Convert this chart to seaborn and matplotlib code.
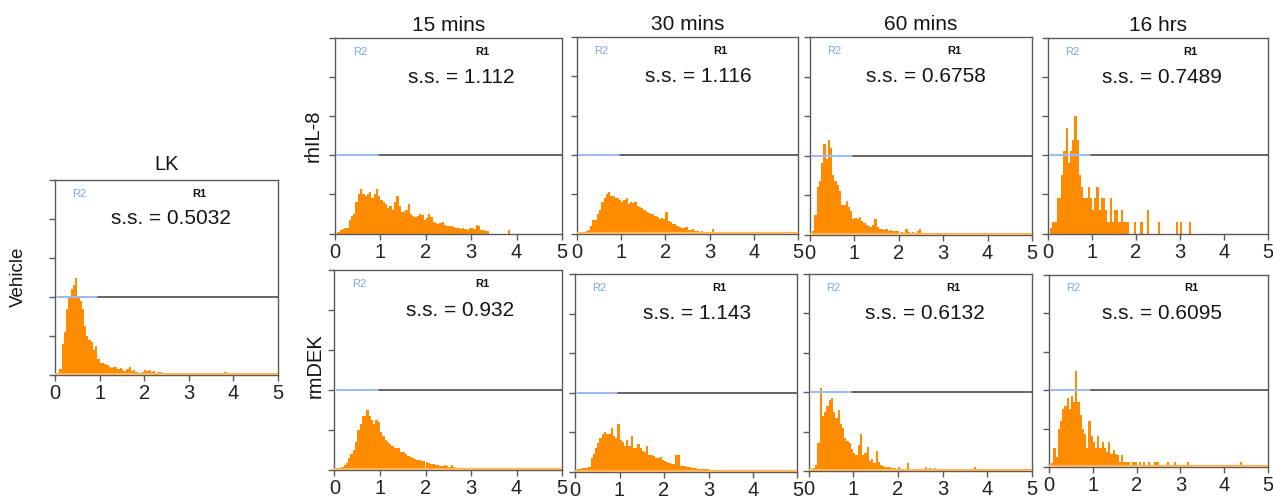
import numpy as np
import pandas as pd
import matplotlib
matplotlib.use("Agg")
import matplotlib.pyplot as plt
import seaborn as sns

sns.set_style("white")
plt.rcParams['font.family'] = ['Liberation Sans', 'DejaVu Sans']

# ---------------- data (heights in tick units, 0.05-wide bins from 0) ----------------
lk_vehicle = [0, 0.05, 0.15, 0.8, 1.1, 1.7, 2.0, 2.2, 2.3, 2.5,
              2.0, 1.9, 1.7, 1.25, 1.0, 0.9, 0.85, 0.65, 0.75, 0.4,
              0.3, 0.3, 0.28, 0.25, 0.2, 0.18, 0.2, 0.2, 0.15, 0.18,
              0.12, 0.1, 0.15, 0.2, 0.1, 0.12, 0.08, 0.05, 0.03, 0.08,
              0.12, 0.1, 0.12, 0.08, 0.1, 0.06, 0.08, 0.08, 0.06, 0.02]
lk_vehicle_out_x = [2.55, 2.65, 2.75, 2.8, 3.3, 3.5, 3.8]
lk_vehicle_out_h = [0.02, 0.05, 0.05, 0.04, 0.06, 0.05, 0.08]

il8_15 = [0, 0.03, 0.09, 0.12, 0.13, 0.15, 0.35, 0.45, 0.5, 0.8,
          1.0, 1.15, 1.0, 0.95, 1.0, 1.05, 0.9, 1.0, 1.15, 0.95,
          0.85, 0.8, 0.75, 0.65, 0.7, 0.6, 0.8, 0.95, 0.7, 0.55,
          0.55, 0.6, 0.75, 0.5, 0.45, 0.42, 0.45, 0.5, 0.48, 0.35,
          0.4, 0.5, 0.42, 0.3, 0.28, 0.25, 0.28, 0.3, 0.22, 0.2,
          0.2, 0.2, 0.16, 0.13, 0.13, 0.12, 0.13, 0.12, 0.1, 0.13,
          0.15, 0.12, 0.22, 0.18, 0.1, 0.08, 0.06, 0.06]
il8_15_out_x = [3.8]
il8_15_out_h = [0.09]

il8_30 = [0.02, 0.02, 0.02, 0.04, 0.06, 0.1, 0.2, 0.35, 0.35, 0.5,
          0.6, 0.8, 0.9, 1.0, 1.05, 0.95, 0.95, 0.9, 0.9, 0.85,
          0.8, 0.85, 0.9, 0.75, 0.8, 0.78, 0.8, 0.7, 0.68, 0.65,
          0.6, 0.55, 0.52, 0.5, 0.5, 0.45, 0.42, 0.38, 0.4, 0.38,
          0.55, 0.33, 0.28, 0.25, 0.25, 0.2, 0.17, 0.14, 0.13, 0.16,
          0.1, 0.09, 0.12, 0.07, 0.06, 0.05, 0.06, 0.05, 0.05, 0.04,
          0.05, 0.12, 0.04, 0.03, 0.03, 0.04, 0.02, 0.02]
il8_30_out_x = [3.75]
il8_30_out_h = [0.03]

il8_60 = [0.05, 0.08, 0.5, 1.2, 1.35, 1.8, 2.3, 1.9, 2.4, 2.2,
          1.5, 1.35, 1.25, 1.1, 0.75, 0.75, 0.85, 0.7, 0.6, 0.4,
          0.42, 0.4, 0.45, 0.35, 0.3, 0.25, 0.22, 0.2, 0.25, 0.4,
          0.2, 0.15, 0.15, 0.12, 0.15, 0.1, 0.12, 0.1, 0.1, 0.08,
          0.05, 0.06, 0.05, 0.15, 0.06, 0.05, 0.06, 0.05, 0.08, 0.15,
          0.05, 0.03, 0.05, 0.03, 0.02]
il8_60_out_x = [2.9, 3.0, 3.45, 4.3]
il8_60_out_h = [0.05, 0.05, 0.05, 0.05]

il8_16h = [0, 0.15, 0.3, 0.3, 0.9, 0.9, 1.5, 2.1, 2.7, 1.8,
           2.1, 2.4, 3.0, 2.4, 1.5, 1.2, 0.9, 0.9, 1.2, 0.9,
           0.6, 0.9, 1.2, 0.6, 0.9, 0.9, 0.6, 0.3, 0.9, 0.3,
           0.6, 0.6, 0.3, 0.6, 0.3, 0.3, 0.3]
il8_16h_out_x = [1.95, 2.1, 2.25, 2.5, 2.9, 3.0, 3.2]
il8_16h_out_h = [0.3, 0.3, 0.6, 0.3, 0.3, 0.3, 0.3]

dek_15 = [0, 0.02, 0.04, 0.08, 0.12, 0.18, 0.3, 0.4, 0.5, 0.7,
          1.0, 1.15, 1.35, 1.35, 1.5, 1.35, 1.25, 1.15, 1.25, 1.2,
          0.95, 0.85, 0.75, 0.7, 0.65, 0.6, 0.55, 0.55, 0.55, 0.45,
          0.45, 0.4, 0.35, 0.32, 0.3, 0.28, 0.26, 0.24, 0.23, 0.22,
          0.2, 0.18, 0.16, 0.14, 0.13, 0.12, 0.11, 0.11, 0.12, 0.09,
          0.08, 0.12, 0.07, 0.06, 0.06, 0.05, 0.05, 0.04, 0.03, 0.03]
dek_15_out_x = [3.05, 3.15, 3.25, 3.35, 3.6]
dek_15_out_h = [0.02, 0.02, 0.02, 0.02, 0.04]

dek_30 = [0.03, 0.06, 0.07, 0.08, 0.08, 0.1, 0.12, 0.35, 0.45, 0.6,
          0.72, 0.85, 0.95, 1.0, 0.95, 0.95, 1.1, 0.9, 0.85, 1.2,
          0.8, 0.75, 0.65, 0.8, 0.65, 0.9, 0.6, 0.6, 0.7, 0.6,
          0.52, 0.5, 0.65, 0.42, 0.42, 0.4, 0.35, 0.33, 0.37, 0.3,
          0.27, 0.25, 0.22, 0.2, 0.18, 0.42, 0.42, 0.14, 0.15, 0.13,
          0.12, 0.12, 0.1, 0.1, 0.08, 0.07, 0.07, 0.07, 0.06, 0.06]
dek_30_out_x = [3.1, 3.2, 3.3, 3.45, 3.6, 3.75, 3.85]
dek_30_out_h = [0.04, 0.03, 0.04, 0.03, 0.03, 0.03, 0.03]

dek_60 = [0, 0, 0.08, 0.15, 0.7, 2.1, 1.4, 1.5, 1.65, 1.8,
          1.85, 1.5, 1.35, 1.55, 1.2, 1.1, 0.85, 0.75, 0.7, 0.55,
          0.45, 0.4, 0.65, 0.95, 0.4, 0.45, 0.6, 0.25, 0.3, 0.2,
          0.5, 0.22, 0.15, 0.12, 0.1, 0.1, 0.1, 0.08, 0.08, 0.06,
          0.1, 0.05, 0.05, 0.05, 0.2, 0.03]
dek_60_out_x = [2.35, 2.6, 2.7, 2.8, 3.25, 3.7]
dek_60_out_h = [0.06, 0.1, 0.08, 0.08, 0.06, 0.1]

dek_16h = [0, 0.1, 0.5, 0.25, 1.0, 1.2, 1.5, 1.6, 1.8, 1.5,
           1.85, 1.7, 2.5, 1.7, 1.35, 1.0, 0.85, 0.5, 1.2, 0.8,
           0.65, 0.5, 0.8, 0.5, 0.65, 0.5, 0.4, 0.65, 0.35, 0.45,
           0.35, 0.3, 0.13, 0.3, 0.13, 0.13, 0.13]
dek_16h_out_x = [1.9, 1.95, 2.05, 2.15, 2.25, 2.4, 2.45, 2.7, 2.85, 3.15, 4.35]
dek_16h_out_h = [0.13, 0.13, 0.13, 0.13, 0.13, 0.13, 0.13, 0.13, 0.13, 0.13, 0.13]

col_titles = ["15 mins", "30 mins", "60 mins", "16 hrs"]
row_labels = ["rhIL-8", "rmDEK"]
lk_title = "LK"
lk_row_label = "Vehicle"
ss_lk = "0.5032"
ss_il8 = ["1.112", "1.116", "0.6758", "0.7489"]
ss_dek = ["0.932", "1.143", "0.6132", "0.6095"]
x_ticks = [0, 1, 2, 3, 4, 5]
gate_level = 2          # horizontal gate line (tick units)
r2_end = 0.95           # R2 / R1 boundary

# ---------------- figure ----------------
W, H = 1273, 497
fig = plt.figure(figsize=(W / 100, H / 100), dpi=100)

def box(l, r, t, b):
    return [l / W, 1 - b / H, (r - l) / W, (b - t) / H]

BW = 0.05
edges = [round(i * BW, 2) for i in range(101)]
centers = [round(e + BW / 2, 3) for e in edges[:-1]]
ORANGE = "#ff8c00"
SPINE = "#5a5a5a"
TXT = "#151515"

def draw(ax, dense, out_x, out_h, ss, baseline=True, r2_start=0.05):
    w = np.zeros(len(centers))
    w[:len(dense)] = dense
    for xo, ho in zip(out_x, out_h):
        w[int(round(xo / BW))] = ho
    df = pd.DataFrame({"x": centers, "w": w})
    sns.histplot(data=df, x="x", weights="w", bins=edges, ax=ax, color=ORANGE,
                 alpha=1.0, linewidth=0)
    ax.set_xlim(0, 5)
    ax.set_ylim(0, 5)
    ax.set_ylabel("")
    ax.set_xlabel("")
    ax.set_xticks(x_ticks)
    ax.set_xticklabels([str(t) for t in x_ticks])
    ax.set_yticks(range(6))
    ax.set_yticklabels([])
    ax.tick_params(axis="both", direction="out", length=4, width=1,
                   color=SPINE, labelsize=14.5, labelcolor="#222222",
                   left=True, bottom=True, pad=2.5)
    for s in ax.spines.values():
        s.set_color(SPINE)
        s.set_linewidth(1.0)
    if baseline:
        ax.axhline(0.02, color="#ffb45a", lw=1.6, zorder=3)
    ax.plot([r2_start, r2_end], [gate_level, gate_level], color="#9dbdf2", lw=1.5, zorder=4)
    ax.plot([r2_end + 0.02, 5], [gate_level, gate_level], color="#4a4a4a", lw=1.2, zorder=4)
    ax.text(0.55, 0.93, "R2", transform=ax.get_xaxis_transform(), color="#7fa6ea",
            fontsize=8, ha="center", va="center")
    ax.text(3.24, 0.93, "R1", transform=ax.get_xaxis_transform(), color="#111111",
            fontsize=8, fontweight="bold", ha="center", va="center")
    ax.text(3.95, 0.80, "s.s. = " + ss, transform=ax.get_xaxis_transform(),
            fontsize=15, ha="right", va="center", color=TXT)

# LK panel
ax_lk = fig.add_axes(box(55, 278, 180, 375))
draw(ax_lk, lk_vehicle, lk_vehicle_out_x, lk_vehicle_out_h, ss_lk)
ax_lk.set_title(lk_title, fontsize=14.5, pad=7, color=TXT)
fig.text(18.5 / W, 1 - 277 / H, lk_row_label, rotation=90, fontsize=13.5,
         ha="center", va="center", color=TXT)

row1_boxes = [(335, 562, 38, 233.5), (577, 798, 37, 233.5), (810, 1032, 37, 234.5), (1048, 1268, 38, 233.5)]
row2_boxes = [(334.5, 562, 270, 470), (575, 797.5, 274, 471.5), (808.5, 1032, 274, 471), (1049, 1268, 275, 467)]

il8_sets = [(il8_15, il8_15_out_x, il8_15_out_h), (il8_30, il8_30_out_x, il8_30_out_h),
            (il8_60, il8_60_out_x, il8_60_out_h), (il8_16h, il8_16h_out_x, il8_16h_out_h)]
dek_sets = [(dek_15, dek_15_out_x, dek_15_out_h), (dek_30, dek_30_out_x, dek_30_out_h),
            (dek_60, dek_60_out_x, dek_60_out_h), (dek_16h, dek_16h_out_x, dek_16h_out_h)]
row1_baseline = [False, True, True, False]

for i in range(4):
    a1 = fig.add_axes(box(*row1_boxes[i]))
    d, ox, oh = il8_sets[i]
    draw(a1, d, ox, oh, ss_il8[i], baseline=row1_baseline[i])
    a1.set_title(col_titles[i], fontsize=15, pad=5, color=TXT)
    a2 = fig.add_axes(box(*row2_boxes[i]))
    d, ox, oh = dek_sets[i]
    draw(a2, d, ox, oh, ss_dek[i], baseline=True)

fig.text(313.5 / W, 1 - 135.5 / H, row_labels[0], rotation=90, fontsize=14.5,
         ha="center", va="center", color=TXT)
fig.text(315 / W, 1 - 366 / H, row_labels[1], rotation=90, fontsize=14.5,
         ha="center", va="center", color=TXT)

fig.savefig("out.png", dpi=100)
